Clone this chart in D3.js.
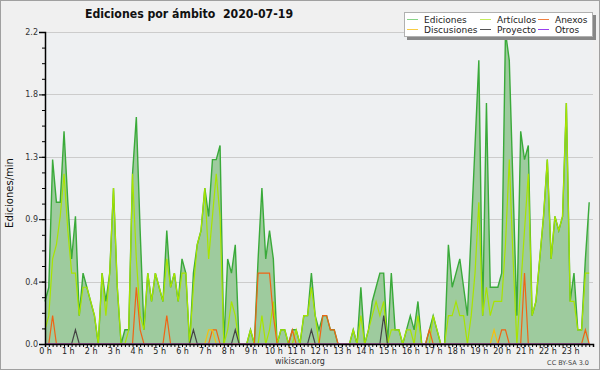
<!DOCTYPE html>
<html>
<head>
<meta charset="utf-8">
<script src="https://cdn.jsdelivr.net/npm/d3@7"></script>
<style>
body { margin: 0; background: #f0f0f0; }
svg { display: block; font-family: "DejaVu Sans", sans-serif; }
</style>
</head>
<body>
<div id="chart"></div>
<script>
// Hour labels and y tick values
var hourLabels = d3.range(24).map(h => h + " h");
var yTickValues = [0, 0.44, 0.88, 1.32, 1.76, 2.2];

// Series, one value per 10 minutes (edits per minute)
var seriesNames = ["Ediciones", "Artículos", "Anexos", "Discusiones", "Proyecto", "Otros"];

var ediciones = [
  0.3, 0.4, 1.3, 1.0, 1.0, 1.5, 1.0, 0.6, 0.9, 0.2, 0.5, 0.4,
  0.3, 0.2, 0.0, 0.5, 0.3, 0.5, 1.1, 0.4, 0.0, 0.1, 0.1, 1.2,
  1.6, 0.8, 0.1, 0.5, 0.3, 0.5, 0.4, 0.3, 0.8, 0.4, 0.5, 0.3,
  0.6, 0.5, 0.0, 0.5, 0.7, 0.8, 1.1, 0.9, 1.3, 1.3, 1.4, 0.0,
  0.6, 0.5, 0.7, 0.0, 0.0, 0.0, 0.1, 0.0, 0.6, 1.1, 0.6, 0.8,
  0.6, 0.0, 0.1, 0.1, 0.0, 0.1, 0.1, 0.0, 0.2, 0.2, 0.5, 0.2,
  0.1, 0.2, 0.2, 0.1, 0.1, 0.0, 0.0, 0.0, 0.0, 0.1, 0.0, 0.4,
  0.0, 0.1, 0.3, 0.4, 0.5, 0.5, 0.0, 0.5, 0.1, 0.1, 0.0, 0.1,
  0.2, 0.1, 0.3, 0.0, 0.0, 0.1, 0.2, 0.1, 0.0, 0.0, 0.7, 0.4,
  0.5, 0.6, 0.4, 0.2, 0.8, 1.4, 2.0, 0.2, 1.7, 0.4, 0.4, 0.4,
  0.5, 2.2, 2.0, 1.1, 0.2, 1.5, 1.3, 1.4, 0.2, 0.3, 0.6, 0.9,
  1.3, 0.6, 0.9, 0.8, 0.9, 1.7, 0.3, 0.5, 0.1, 0.1, 0.6, 1.0
];

var articulos = [
  0.1, 0.2, 0.6, 0.7, 0.9, 1.2, 0.8, 0.5, 0.5, 0.2, 0.4, 0.4,
  0.3, 0.2, 0.0, 0.5, 0.2, 0.5, 1.1, 0.4, 0.0, 0.0, 0.1, 1.2,
  0.6, 0.2, 0.1, 0.5, 0.3, 0.5, 0.4, 0.3, 0.6, 0.4, 0.5, 0.3,
  0.5, 0.5, 0.0, 0.4, 0.7, 0.8, 1.1, 0.6, 0.9, 1.2, 0.9, 0.0,
  0.1, 0.3, 0.2, 0.0, 0.0, 0.0, 0.1, 0.0, 0.0, 0.2, 0.0, 0.1,
  0.3, 0.0, 0.1, 0.1, 0.0, 0.0, 0.1, 0.0, 0.2, 0.2, 0.4, 0.2,
  0.0, 0.0, 0.0, 0.0, 0.0, 0.0, 0.0, 0.0, 0.0, 0.1, 0.0, 0.2,
  0.0, 0.1, 0.2, 0.3, 0.2, 0.3, 0.0, 0.1, 0.1, 0.1, 0.0, 0.1,
  0.1, 0.0, 0.2, 0.0, 0.0, 0.0, 0.2, 0.1, 0.0, 0.0, 0.2, 0.2,
  0.3, 0.2, 0.2, 0.0, 0.2, 0.5, 1.0, 0.2, 0.4, 0.2, 0.3, 0.3,
  0.3, 0.7, 1.3, 0.6, 0.0, 0.4, 0.8, 1.2, 0.2, 0.3, 0.6, 0.9,
  1.3, 0.6, 0.9, 0.8, 0.9, 1.7, 0.3, 0.3, 0.1, 0.1, 0.5, 0.5
];

var anexos = [
  0, 0, 0.2, 0, 0, 0, 0, 0, 0, 0, 0, 0,
  0, 0, 0, 0, 0, 0, 0, 0, 0, 0, 0, 0,
  0.4, 0.1, 0, 0, 0, 0, 0, 0, 0.2, 0, 0, 0,
  0, 0, 0, 0, 0, 0, 0, 0, 0.1, 0.1, 0, 0,
  0, 0, 0, 0, 0, 0, 0, 0, 0.5, 0.5, 0.5, 0.5,
  0.2, 0, 0, 0, 0, 0.1, 0, 0, 0, 0, 0, 0,
  0, 0.2, 0.2, 0.1, 0.1, 0, 0, 0, 0, 0, 0, 0,
  0, 0, 0, 0, 0, 0, 0, 0, 0, 0, 0, 0,
  0, 0, 0, 0, 0, 0.1, 0, 0, 0, 0, 0, 0,
  0, 0, 0, 0, 0, 0, 0, 0, 0, 0, 0, 0,
  0.1, 0.1, 0, 0, 0, 0, 0.5, 0, 0, 0, 0, 0,
  0, 0, 0, 0, 0, 0, 0, 0, 0, 0, 0.1, 0
];

var discusiones = [
  0, 0, 0, 0, 0, 0, 0, 0, 0, 0, 0, 0,
  0, 0, 0, 0, 0, 0, 0, 0, 0, 0, 0, 0,
  0, 0, 0, 0, 0, 0, 0, 0, 0, 0, 0, 0,
  0, 0, 0, 0, 0, 0, 0, 0.1, 0.1, 0, 0, 0,
  0, 0, 0, 0, 0, 0, 0, 0, 0, 0, 0, 0,
  0, 0, 0, 0, 0, 0, 0, 0, 0, 0, 0, 0,
  0, 0, 0, 0, 0, 0, 0, 0, 0, 0, 0, 0,
  0, 0, 0, 0, 0, 0, 0, 0, 0, 0, 0, 0,
  0, 0, 0, 0, 0, 0, 0, 0, 0, 0, 0, 0,
  0, 0, 0, 0, 0, 0, 0, 0, 0, 0, 0.1, 0,
  0, 0, 0, 0, 0, 0, 0, 0, 0, 0, 0, 0,
  0, 0, 0, 0, 0, 0, 0, 0, 0, 0, 0, 0
];

var proyecto = [
  0, 0, 0, 0, 0, 0, 0, 0, 0.1, 0, 0, 0,
  0, 0, 0, 0, 0, 0, 0, 0, 0, 0, 0, 0,
  0, 0, 0, 0, 0, 0, 0, 0, 0, 0, 0, 0,
  0, 0, 0, 0.1, 0, 0, 0, 0, 0, 0, 0, 0,
  0, 0, 0.1, 0, 0, 0, 0, 0, 0, 0, 0, 0,
  0, 0, 0, 0, 0, 0, 0, 0, 0, 0, 0.1, 0,
  0, 0, 0, 0, 0, 0, 0, 0, 0, 0, 0, 0,
  0, 0, 0, 0, 0, 0.2, 0, 0, 0, 0, 0, 0,
  0, 0, 0, 0, 0, 0, 0, 0, 0, 0, 0, 0,
  0, 0, 0, 0, 0, 0, 0, 0, 0, 0, 0, 0,
  0, 0, 0, 0, 0, 0, 0, 0, 0, 0, 0, 0,
  0, 0, 0, 0, 0, 0, 0, 0, 0, 0, 0, 0
];

var otros = d3.range(144).map(() => 0);

var seriesColors = ["#3aaa3a", "#a8e400", "#f06414", "#f5c010", "#444444", "#9933ee"];
var legendColors = ["#88d488", "#c4ec5c", "#f08040", "#f8cc44", "#555555", "#9940ee"];

// Dimensions
var svgWidth = 600, svgHeight = 370;
var plot = { l: 45, r: 593, t: 32, b: 344 };

var svg = d3.select("#chart").append("svg")
    .attr("width", svgWidth)
    .attr("height", svgHeight);

// Background and frame
svg.append("rect")
    .attr("x", 0.5).attr("y", 0.5)
    .attr("width", svgWidth - 1).attr("height", svgHeight - 1)
    .attr("fill", "#f0f0f0").attr("stroke", "#a0a0a0");

svg.append("rect")
    .attr("x", plot.l).attr("y", plot.t)
    .attr("width", plot.r - plot.l).attr("height", plot.b - plot.t)
    .attr("fill", "#eef0f2");

// Scales
var xScale = d3.scaleLinear().domain([0, 144]).range([plot.l, plot.r]);
var yScale = d3.scaleLinear().domain([0, 2.2]).range([plot.b, plot.t]);

// Grid lines
svg.append("g")
    .selectAll("line")
    .data(yTickValues.slice(1))
    .enter().append("line")
    .attr("x1", plot.l).attr("x2", plot.r)
    .attr("y1", d => Math.round(yScale(d)) + 0.5)
    .attr("y2", d => Math.round(yScale(d)) + 0.5)
    .attr("stroke", "#cccccc");

// Area for Ediciones
var area = d3.area()
    .x((d, i) => xScale(i))
    .y0(yScale(0))
    .y1(d => yScale(d));

svg.append("path")
    .datum(ediciones)
    .attr("d", area)
    .attr("fill", "#9ecb9e");

// Lines
var line = d3.line()
    .x((d, i) => xScale(i))
    .y(d => yScale(d));

var allSeries = [ediciones, articulos, anexos, discusiones, proyecto, otros];
allSeries.forEach(function (s, k) {
    svg.append("path")
        .datum(s)
        .attr("d", line)
        .attr("fill", "none")
        .attr("stroke", seriesColors[k])
        .attr("stroke-width", k == 0 ? 1.4 : 1.2)
        .attr("stroke-linejoin", "miter");
});

// Y axis: minor ticks, then major ticks with labels
svg.append("g")
    .attr("transform", `translate(${plot.l},0)`)
    .call(d3.axisLeft(yScale).tickValues(d3.range(0, 21).map(k => k * 0.11)).tickSize(3).tickFormat(""))
    .call(g => g.select(".domain").remove());

var yAxis = svg.append("g")
    .attr("transform", `translate(${plot.l},0)`)
    .call(d3.axisLeft(yScale).tickValues(yTickValues).tickSize(6).tickPadding(1).tickFormat(d3.format(".1f")));
yAxis.select(".domain").attr("stroke-width", 1.5);
yAxis.selectAll("text").attr("font-size", 8).attr("fill", "#333").attr("font-family", "DejaVu Sans");

// X axis: a tick every 10 minutes, labels on the hours
var xAxis = svg.append("g")
    .attr("transform", `translate(0,${plot.b})`)
    .call(d3.axisBottom(xScale).tickValues(d3.range(0, 145)).tickSize(3).tickFormat(""));
xAxis.select(".domain").attr("stroke-width", 1.5);

var xLabels = svg.append("g")
    .attr("transform", `translate(0,${plot.b})`)
    .call(d3.axisBottom(xScale).tickValues(d3.range(0, 24).map(h => h * 6)).tickSize(3).tickPadding(1)
        .tickFormat((d, i) => hourLabels[i]));
xLabels.select(".domain").remove();
xLabels.selectAll("text").attr("font-size", 8).attr("fill", "#222").attr("font-family", "DejaVu Sans");

// Title
svg.append("text")
    .attr("x", 85).attr("y", 18)
    .attr("font-family", "DejaVu Sans Condensed, DejaVu Sans")
    .attr("font-weight", "bold")
    .attr("font-size", 12.2)
    .attr("fill", "#111")
    .style("white-space", "pre")
    .text("Ediciones por ámbito  2020-07-19");

// Y axis title
svg.append("text")
    .attr("transform", "translate(13,193) rotate(-90)")
    .attr("text-anchor", "middle")
    .attr("font-size", 10)
    .attr("fill", "#111")
    .text("Ediciones/min");

// Footer texts
svg.append("text")
    .attr("x", 300).attr("y", 364)
    .attr("text-anchor", "middle")
    .attr("font-size", 8)
    .attr("fill", "#333")
    .text("wikiscan.org");

svg.append("text")
    .attr("x", 589).attr("y", 365)
    .attr("text-anchor", "end")
    .attr("font-size", 6.5)
    .attr("fill", "#444")
    .text("CC BY-SA 3.0");

// Legend
var legend = svg.append("g");
legend.append("rect")
    .attr("x", 407).attr("y", 15).attr("width", 189).attr("height", 25)
    .attr("fill", "#888");
legend.append("rect")
    .attr("x", 404.5).attr("y", 12.5).attr("width", 188).attr("height", 24)
    .attr("fill", "#ffffff").attr("stroke", "#b0b0b0");

var colX = [407, 480, 538];
var rowY = [19.5, 29.5];
seriesNames.forEach(function (name, k) {
    var cx = colX[k % 3], cy = rowY[Math.floor(k / 3)];
    legend.append("line")
        .attr("x1", cx).attr("x2", cx + 11)
        .attr("y1", cy).attr("y2", cy)
        .attr("stroke", legendColors[k]);
    legend.append("text")
        .attr("x", cx + 17).attr("y", cy + 3)
        .attr("font-size", 9)
        .attr("fill", "#222")
        .text(name);
});
</script>
</body>
</html>
